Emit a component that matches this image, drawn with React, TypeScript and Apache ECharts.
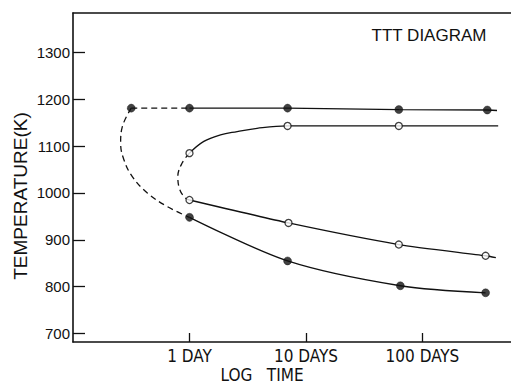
import React, { useEffect, useRef } from "react";
import * as echarts from "echarts";

// x = log10(time in days)
const X_TICKS = [0, 1, 2];
const X_TICK_LABELS = ["1 DAY", "10 DAYS", "100 DAYS"];
const Y_TICKS = [700, 800, 900, 1000, 1100, 1200, 1300];

// Upper (filled) series ~1180 K
const UPPER_FILLED_X = [0, 0.842, 1.797, 2.556];
const UPPER_FILLED_Y = [1181, 1181, 1178, 1177];
const UPPER_FILLED_LINE_X = [0, 0.842, 1.797, 2.556, 2.64];
const UPPER_FILLED_LINE_Y = [1181, 1181, 1178, 1177, 1176];

// Onset point joined by dashed line
const ONSET_X = [-0.5];
const ONSET_Y = [1181];
const ONSET_LINE_X = [-0.5, 0];
const ONSET_LINE_Y = [1181, 1181];

// Outer dashed C-curve
const OUTER_C_X = [-0.5, -0.577, -0.591, -0.563, -0.491, -0.362, -0.191, 0];
const OUTER_C_Y = [1181, 1141, 1106, 1071, 1035, 1000, 971, 948];

// Upper open series ~1143 K
const UPPER_OPEN_X = [0, 0.842, 1.797];
const UPPER_OPEN_Y = [1085, 1143, 1143];
const UPPER_OPEN_LINE_X = [0, 0.123, 0.266, 0.409, 0.58, 0.842, 1.797, 2.65];
const UPPER_OPEN_LINE_Y = [1085, 1110, 1124, 1131, 1138, 1143, 1143, 1143];

// Inner dashed curve
const INNER_C_X = [0, -0.063, -0.1, -0.083, -0.034, 0];
const INNER_C_Y = [1085, 1064, 1035, 1007, 989, 985];

// Lower open series
const LOWER_OPEN_X = [0, 0.85, 1.797, 2.542];
const LOWER_OPEN_Y = [985, 936, 890, 866];
const LOWER_OPEN_LINE_X = [0, 0.85, 1.797, 2.542, 2.63];
const LOWER_OPEN_LINE_Y = [985, 936, 890, 866, 862];

// Lower filled series
const LOWER_FILLED_X = [0, 0.842, 1.81, 2.542];
const LOWER_FILLED_Y = [948, 855, 802, 787];

const zip = (xs: number[], ys: number[]) => xs.map((x, i) => [x, ys[i]]);

const BLACK = "#111";
const NARROW = "'Liberation Sans Narrow', 'DejaVu Sans Condensed', 'Liberation Sans', sans-serif";
const SANS = "'Liberation Sans', Arial, sans-serif";

function lineSeries(xs: number[], ys: number[], opts: any = {}) {
  return {
    type: "line",
    data: zip(xs, ys),
    showSymbol: false,
    symbol: "none",
    smooth: opts.smooth ?? 0.3,
    lineStyle: { color: BLACK, width: 1.3, type: opts.dashed ? [6, 4] : "solid" },
    z: 2,
    silent: true,
  };
}

function markerSeries(xs: number[], ys: number[], filled: boolean) {
  return {
    type: "scatter",
    data: zip(xs, ys),
    symbol: "circle",
    symbolSize: filled ? 8 : 7,
    itemStyle: filled
      ? { color: BLACK, borderColor: BLACK, borderWidth: 0.5 }
      : { color: "#fff", borderColor: BLACK, borderWidth: 1.3 },
    z: 5,
    silent: true,
  };
}

export default function App() {
  const ref = useRef<HTMLDivElement>(null);
  useEffect(() => {
    if (!ref.current) return;
    const chart = echarts.init(ref.current, undefined, { renderer: "svg" });
    chart.setOption({
      animation: false,
      backgroundColor: "#fff",
      grid: { left: 73, right: 0, top: 13, bottom: 43 },
      xAxis: [
        {
          type: "value",
          min: -1,
          max: 2.76,
          axisLine: { show: true, onZero: false, lineStyle: { color: BLACK, width: 1.6 } },
          axisTick: {
            show: true,
            inside: true,
            length: 9,
            customValues: X_TICKS,
            lineStyle: { color: BLACK, width: 1.3 },
          },
          axisLabel: {
            customValues: X_TICKS,
            formatter: (v: number) => {
              const i = X_TICKS.indexOf(Math.round(v * 1000) / 1000);
              return i >= 0 ? X_TICK_LABELS[i] : "";
            },
            color: BLACK,
            fontFamily: NARROW,
            fontSize: 17,
            margin: 5,
          },
          splitLine: { show: false },
        },
        {
          type: "value",
          position: "top",
          min: -1,
          max: 2.76,
          axisLine: { show: true, onZero: false, lineStyle: { color: BLACK, width: 1.6 } },
          axisTick: { show: false },
          axisLabel: { show: false },
          splitLine: { show: false },
        },
      ],
      yAxis: {
        type: "value",
        min: 682,
        max: 1384,
        axisLine: { show: true, onZero: false, lineStyle: { color: BLACK, width: 1.6 } },
        axisTick: {
          show: true,
          inside: true,
          length: 12,
          customValues: Y_TICKS,
          lineStyle: { color: BLACK, width: 1.3 },
        },
        axisLabel: {
          customValues: Y_TICKS,
          formatter: (v: number) => String(v),
          color: BLACK,
          fontFamily: SANS,
          fontSize: 15,
          margin: 3,
        },
        splitLine: { show: false },
      },
      graphic: [
        {
          type: "text",
          x: 429,
          y: 35,
          style: {
            text: "TTT DIAGRAM",
            fill: BLACK,
            font: "17px " + SANS,
            align: "center",
            verticalAlign: "middle",
          },
        },
        {
          type: "text",
          x: 262,
          y: 375,
          style: {
            text: "LOG   TIME",
            fill: BLACK,
            font: "17px " + NARROW,
            align: "center",
            verticalAlign: "middle",
          },
        },
        {
          type: "text",
          x: 20,
          y: 196,
          rotation: Math.PI / 2,
          style: {
            text: "TEMPERATURE(K)",
            fill: BLACK,
            font: "19px " + SANS,
            align: "center",
            verticalAlign: "middle",
          },
        },
      ],
      series: [
        lineSeries(ONSET_LINE_X, ONSET_LINE_Y, { dashed: true, smooth: false }),
        lineSeries(UPPER_FILLED_LINE_X, UPPER_FILLED_LINE_Y, { smooth: false }),
        lineSeries(OUTER_C_X, OUTER_C_Y, { dashed: true, smooth: 0.4 }),
        lineSeries(UPPER_OPEN_LINE_X, UPPER_OPEN_LINE_Y, { smooth: 0.4 }),
        lineSeries(INNER_C_X, INNER_C_Y, { dashed: true, smooth: 0.4 }),
        lineSeries(LOWER_OPEN_LINE_X, LOWER_OPEN_LINE_Y, { smooth: 0.2 }),
        lineSeries(LOWER_FILLED_X, LOWER_FILLED_Y, { smooth: 0.3 }),
        markerSeries(ONSET_X, ONSET_Y, true),
        markerSeries(UPPER_FILLED_X, UPPER_FILLED_Y, true),
        markerSeries(UPPER_OPEN_X, UPPER_OPEN_Y, false),
        markerSeries(LOWER_OPEN_X, LOWER_OPEN_Y, false),
        markerSeries(LOWER_FILLED_X, LOWER_FILLED_Y, true),
      ],
    });
    return () => chart.dispose();
  }, []);
  return (
    <div
      ref={ref}
      style={{ position: "fixed", left: 0, top: 0, width: 511, height: 385 }}
    />
  );
}
